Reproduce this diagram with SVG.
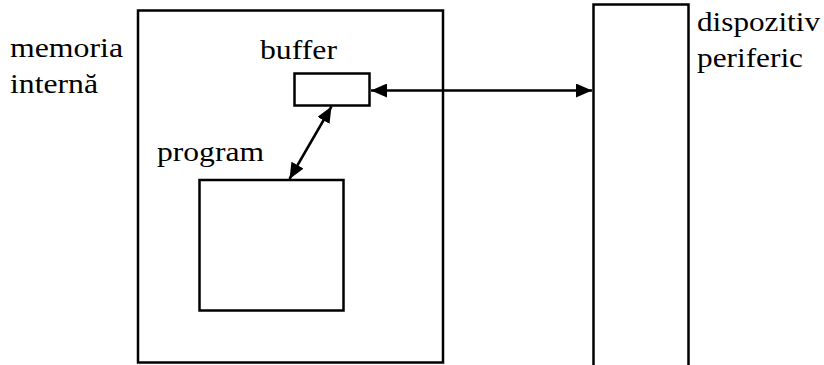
<svg xmlns="http://www.w3.org/2000/svg" width="824" height="365" viewBox="0 0 824 365">
  <style>
    .box { fill: #fff; stroke: #000; stroke-width: 2.5; }
    .lbl { font-family: "Liberation Serif", "DejaVu Serif", serif; font-size: 28px; fill: #000; }
    .link { stroke: #000; stroke-width: 2.5; fill: none; marker-start: url(#head); marker-end: url(#head); }
  </style>
  <defs>
    <marker id="head" viewBox="0 0 16 14" refX="16" refY="7" markerWidth="16" markerHeight="14" markerUnits="userSpaceOnUse" orient="auto-start-reverse">
      <path d="M0,0 L16,7 L0,14 z" fill="#000"/>
    </marker>
  </defs>
  <rect width="824" height="365" fill="#fff"/>

  <!-- internal memory -->
  <g id="memoria">
    <rect class="box" x="138" y="10.5" width="305" height="352"/>
    <text class="lbl" x="10" y="57" textLength="113" lengthAdjust="spacingAndGlyphs">memoria</text>
    <text class="lbl" x="10" y="93" textLength="88" lengthAdjust="spacingAndGlyphs">internă</text>
  </g>

  <!-- buffer inside memory -->
  <g id="buffer">
    <rect class="box" x="294.5" y="73.5" width="75" height="32"/>
    <text class="lbl" x="260" y="59" textLength="77" lengthAdjust="spacingAndGlyphs">buffer</text>
  </g>

  <!-- program area -->
  <g id="program">
    <rect class="box" x="199.5" y="180" width="144" height="130.5"/>
    <text class="lbl" x="157" y="161" textLength="107" lengthAdjust="spacingAndGlyphs">program</text>
  </g>

  <!-- peripheral device -->
  <g id="dispozitiv">
    <path class="box" d="M593.5,366 V4.5 H688.5 V366"/>
    <text class="lbl" x="697" y="31" textLength="123" lengthAdjust="spacingAndGlyphs">dispozitiv</text>
    <text class="lbl" x="697" y="67" textLength="106" lengthAdjust="spacingAndGlyphs">periferic</text>
  </g>

  <!-- data transfers -->
  <g id="connectors">
    <line class="link" x1="371" y1="90.5" x2="592" y2="90.5"/>
    <line class="link" x1="331.5" y1="106.5" x2="289.5" y2="179"/>
  </g>
</svg>
